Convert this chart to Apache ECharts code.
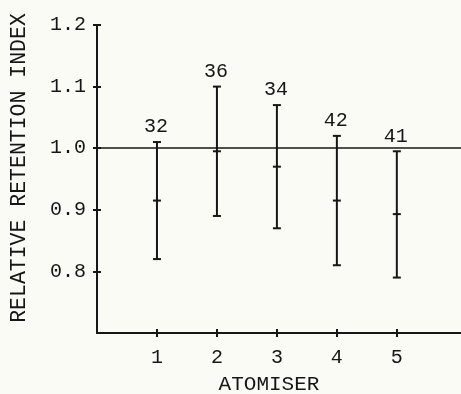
<!DOCTYPE html>
<html>
<head>
<meta charset="utf-8">
<script src="https://cdn.jsdelivr.net/npm/echarts@6/dist/echarts.min.js"></script>
<style>
html,body{margin:0;padding:0;background:#fbfbf6;}
#chart{width:461px;height:394px;}
</style>
</head>
<body>
<div id="chart"></div>
<script>
// ---- data ----
const atomisers = [1, 2, 3, 4, 5];
const lowValues  = [0.82, 0.89, 0.87, 0.81, 0.79];
const meanValues = [0.915, 0.995, 0.97, 0.915, 0.893];
const highValues = [1.01, 1.10, 1.07, 1.02, 0.995];
const counts     = [32, 36, 34, 42, 41];
const referenceValue = 1.0;
const yTicks = [0.8, 0.9, 1.0, 1.1, 1.2];
const xTicks = [1, 2, 3, 4, 5];
const yTitle = 'RELATIVE RETENTION INDEX';
const xTitle = 'ATOMISER';

const ink = '#161616';
const font = 'Liberation Mono';

const seriesData = atomisers.map((a, i) => [a, lowValues[i], meanValues[i], highValues[i], counts[i]]);

function renderItem(params, api) {
  const x = api.value(0);
  const pLo = api.coord([x, api.value(1)]);
  const pMid = api.coord([x, api.value(2)]);
  const pHi = api.coord([x, api.value(3)]);
  const w = 4;
  const st = { stroke: ink, lineWidth: 2 };
  return {
    type: 'group',
    children: [
      { type: 'line', shape: { x1: pLo[0], y1: pLo[1], x2: pHi[0], y2: pHi[1] }, style: st },
      { type: 'line', shape: { x1: pHi[0] - w, y1: pHi[1], x2: pHi[0] + w, y2: pHi[1] }, style: st },
      { type: 'line', shape: { x1: pLo[0] - w, y1: pLo[1], x2: pLo[0] + w, y2: pLo[1] }, style: st },
      { type: 'line', shape: { x1: pMid[0] - w, y1: pMid[1], x2: pMid[0] + w, y2: pMid[1] }, style: st },
      { type: 'text', x: pHi[0] - 1, y: pHi[1] - 15,
        style: { text: String(api.value(4)), fill: ink, font: '20px ' + font, align: 'center', verticalAlign: 'middle' } }
    ]
  };
}

const chart = echarts.init(document.getElementById('chart'), null, { renderer: 'canvas' });

const axisLineStyle = { color: ink, width: 2 };
const xBase = { type: 'value', min: 0, max: 6.07, position: 'bottom', splitLine: { show: false } };
const yBase = { type: 'value', min: 0.7, max: 1.2, position: 'left', splitLine: { show: false } };

chart.setOption({
  backgroundColor: '#fbfbf6',
  animation: false,
  grid: { left: 97, right: 0, top: 25, bottom: 61, containLabel: false },
  xAxis: [
    Object.assign({}, xBase, {
      axisLine: { show: true, lineStyle: axisLineStyle },
      axisTick: { show: true, inside: false, length: 4, customValues: xTicks, lineStyle: { color: ink, width: 2 } },
      axisLabel: { show: true, customValues: xTicks, margin: 15, color: ink, fontFamily: font, fontSize: 20 }
    }),
    Object.assign({}, xBase, {
      axisLine: { show: false },
      axisTick: { show: true, inside: true, length: 4, customValues: xTicks, lineStyle: { color: ink, width: 2 } },
      axisLabel: { show: false }
    })
  ],
  yAxis: [
    Object.assign({}, yBase, {
      axisLine: { show: true, lineStyle: axisLineStyle },
      axisTick: { show: true, inside: false, length: 4, customValues: yTicks, lineStyle: { color: ink, width: 2 } },
      axisLabel: { show: true, customValues: yTicks, margin: 11, color: ink, fontFamily: font, fontSize: 20,
                   formatter: v => Number(v).toFixed(1) }
    }),
    Object.assign({}, yBase, {
      axisLine: { show: false },
      axisTick: { show: true, inside: true, length: 4, customValues: yTicks, lineStyle: { color: ink, width: 2 } },
      axisLabel: { show: false }
    })
  ],
  graphic: [
    { type: 'text', x: 269, y: 384,
      style: { text: xTitle, fill: ink, font: '21px ' + font, align: 'center', verticalAlign: 'middle' } },
    { type: 'text', x: 19, y: 168, rotation: Math.PI / 2,
      style: { text: yTitle, fill: ink, font: '21.5px ' + font, align: 'center', verticalAlign: 'middle' } }
  ],
  series: [
    {
      type: 'custom',
      xAxisIndex: 0,
      yAxisIndex: 0,
      renderItem: renderItem,
      encode: { x: 0, y: [1, 2, 3] },
      data: seriesData,
      clip: false,
      markLine: {
        silent: true,
        symbol: 'none',
        label: { show: false },
        lineStyle: { color: ink, width: 1.6, type: 'solid' },
        data: [{ yAxis: referenceValue }]
      }
    }
  ]
});
</script>
</body>
</html>
